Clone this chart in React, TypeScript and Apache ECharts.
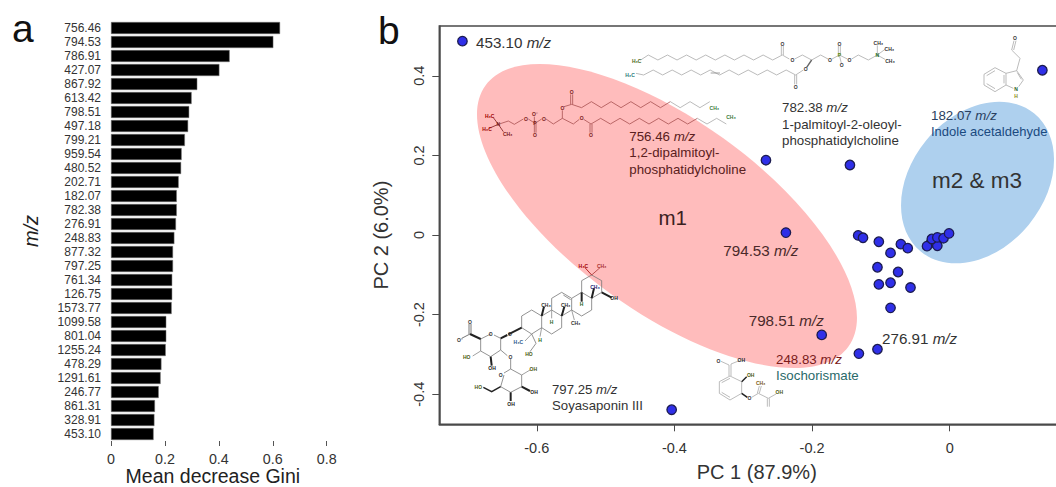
import React, { useEffect, useRef } from "react";
import * as echarts from "echarts";

const FONT = "Liberation Sans";

// Panel a
const mzLabels = ["756.46","794.53","786.91","427.07","867.92","613.42","798.51","497.18","799.21","959.54","480.52","202.71","182.07","782.38","276.91","248.83","877.32","797.25","761.34","126.75","1573.77","1099.58","801.04","1255.24","478.29","1291.61","246.77","861.31","328.91","453.10"];
const giniValues = [0.627,0.602,0.44,0.402,0.32,0.299,0.29,0.286,0.274,0.262,0.26,0.251,0.244,0.244,0.241,0.235,0.23,0.23,0.227,0.227,0.225,0.205,0.205,0.203,0.187,0.184,0.177,0.163,0.161,0.158];

// Panel b
const pcaPoints: number[][] = [
  [-0.708,0.487],[0.1346,0.414],[-0.267,0.188],[-0.145,0.176],[-0.238,0.006],
  [-0.133,-0.001],[-0.126,-0.007],[-0.103,-0.017],[-0.071,-0.023],[-0.061,-0.033],
  [-0.086,-0.045],[-0.105,-0.081],[-0.075,-0.093],[-0.103,-0.124],[-0.086,-0.12],
  [-0.057,-0.132],[-0.086,-0.183],[-0.186,-0.251],[-0.105,-0.287],[-0.132,-0.298],[-0.404,-0.439],
  [-0.027,-0.019],[-0.033,-0.028],[-0.018,-0.027],[-0.026,-0.01],[-0.018,-0.006],[-0.009,-0.008],[-0.001,0.004],
];
const pc1Ticks = [-0.6,-0.4,-0.2,0];
const pc2Ticks = [-0.4,-0.2,0,0.2,0.4];
const ellipses: (number|string)[][] = [
  [-0.4108,0.0477,223.5,96,35.7,"#ffbcbc"],
  [0.0404,0.1319,89.3,66.4,-50.5,"#aed0ee"],
];

type Pt = [number, number];
const GREY = "#a9a9a9";
const RED = "#a85050";
const els: any[] = [];
const line = (o: Pt, pts: Pt[], color = GREY, w = 0.8) =>
  els.push({ type: "polyline", z: 3, silent: true, shape: { points: pts.map(p => [o[0]+p[0]/3, o[1]+p[1]/3]) }, style: { stroke: color, lineWidth: w, fill: "none" } });
const atom = (o: Pt, s: string, x: number, y: number, color = "#333") =>
  els.push({ type: "text", z: 3, silent: true, x: o[0]+x/3, y: o[1]+y/3, style: { text: s, fontFamily: FONT, fontSize: 5, fontWeight: "bold", fill: color, align: "center", verticalAlign: "middle" } });
const zig = (x0: number, yA: number, yB: number, n: number, dx: number): Pt[] => {
  const r: Pt[] = [];
  for (let i = 0; i <= n; i++) r.push([x0 + i*dx, i % 2 === 0 ? yA : yB]);
  return r;
};
const label = (x: number, y: number, text: string, fontSize: number, fill: string, align = "left") =>
  els.push({ type: "text", z: 3, silent: true, x, y, style: { text, fontFamily: FONT, fontSize, fill, align, verticalAlign: "middle", rich: { i: { fontStyle: "italic", fontFamily: FONT, fontSize, fill } } } });

// 756.46 structure
{
  const o: Pt = [475,85];
  line(o, [[70,118],[100,108],[118,118],[145,102]], RED);
  line(o, [[160,102],[180,115],[200,102]], RED);
  line(o, [[178,95],[178,115]], RED); line(o, [[178,115],[178,143]], RED); line(o, [[183,115],[183,143]], RED);
  line(o, [[213,102],[235,117],[262,100],[262,76]], RED, 0.8);
  line(o, [[267,65],[290,58]], RED);
  line(o, [[287,58],[287,28]], RED); line(o, [[293,58],[293,28]], RED);
  const c1 = zig(290,58,68,14,29.6).map((p,i) => [p[0], i%2===0 ? (i===0?58:50) : 68] as Pt);
  line(o, c1.slice(0,11), RED); line(o, c1.slice(10), GREY);
  line(o, [[262,100],[295,117],[313,103]], RED);
  line(o, [[326,103],[348,117]], RED);
  line(o, [[345,117],[345,143]], RED); line(o, [[351,117],[351,143]], RED);
  const c2 = zig(348,117,100,14,29);
  line(o, c2.slice(0,12), RED); line(o, c2.slice(11), GREY);
  line(o, [[70,118],[55,98]], "#7a1a1a"); line(o, [[70,118],[42,130]], "#7a1a1a"); line(o, [[70,118],[85,140]], "#7a1a1a");
  atom(o,"H\u2083C",44,93,"#a00000"); atom(o,"H\u2083C",36,132,"#a00000"); atom(o,"CH\u2083",98,147,"#7a1a1a"); atom(o,"N",70,118,"#7a1a1a");
  atom(o,"O",153,101,"#7a1a1a"); atom(o,"P",180,115,"#7a1a1a"); atom(o,"O\u207b",180,87,"#7a1a1a"); atom(o,"O",180,149,"#7a1a1a"); atom(o,"O",207,101,"#7a1a1a");
  atom(o,"O",262,70,"#7a1a1a"); atom(o,"O",290,21,"#7a1a1a"); atom(o,"O",320,100,"#7a1a1a"); atom(o,"O",348,150,"#7a1a1a");
  atom(o,"CH\u2083",718,68,"#3a7a3a"); atom(o,"CH\u2083",768,97,"#3a7a3a");
}
// 782.38 structure
{
  const o: Pt = [620,30];
  line(o, [[62,90],...zig(85,75,90,14,28.7)]);
  line(o, [[487,75],[508,87]]); line(o, [[484,75],[484,48]]); line(o, [[490,75],[490,48]]);
  line(o, [[524,87],[547,75],[575,90],[602,75],[624,87]]);
  line(o, [[636,87],[658,75],[682,87]]); line(o, [[655,75],[655,48]]); line(o, [[661,75],[661,48]]); line(o, [[658,75],[664,100]]);
  line(o, [[695,87],[715,75],[745,90],[772,75],[772,46]]); line(o, [[772,75],[795,58]]); line(o, [[772,75],[795,88]]);
  line(o, [[575,90],[560,112]], "#666", 1.4);
  line(o, [[550,120],[527,135]]); line(o, [[524,135],[524,163]]); line(o, [[530,135],[530,163]]);
  const c = zig(527,135,120,16,-28.5);
  line(o, [...c, [48,130]]); line(o, [[272,129],[300,129]], "#888", 0.8);
  atom(o,"H\u2083C",50,92,"#4a6a20"); atom(o,"H\u2083C",30,135,"#2a7a7a");
  atom(o,"O",487,42); atom(o,"O",517,90); atom(o,"O",630,90); atom(o,"P",658,75,"#5a8a10"); atom(o,"O",658,42); atom(o,"O",665,105); atom(o,"O",688,90);
  atom(o,"N",772,75,"#1a6a1a"); atom(o,"CH\u2083",775,40); atom(o,"CH\u2083",808,58); atom(o,"CH\u2083",810,92); atom(o,"O",557,118); atom(o,"O",527,170);
}
// 797.25 structure
{
  const o: Pt = [450,255];
  const ring: Pt[][] = [
    [[215,183],[245,165],[275,183],[275,218],[245,237],[215,218],[215,183]],
    [[275,183],[305,165],[335,183],[335,218],[305,237],[275,218]],
    [[305,165],[305,130],[335,112],[365,130],[365,165],[335,183]],
    [[365,165],[395,183],[425,165],[425,130],[395,112],[365,130]],
    [[395,112],[395,77],[425,60],[455,77],[455,112],[425,130]],
    [[122,237],[92,252],[92,288],[122,305],[152,285],[152,250],[132,240]],
    [[162,360],[152,395],[182,412],[215,395],[215,360],[182,342],[162,354]],
  ];
  ring.forEach(r => line(o, r, "#777", 0.8));
  line(o, [[340,120],[362,134]], "#777");
  line(o, [[425,60],[405,38]], "#a00000"); line(o, [[425,60],[450,38]], "#a33");
  line(o, [[455,112],[485,128]], "#222", 2);
  line(o, [[215,218],[175,238]], "#222", 2);
  line(o, [[152,250],[172,240]], "#222", 2);
  line(o, [[92,252],[60,237]], "#222", 2); line(o, [[57,237],[57,207]], "#555"); line(o, [[63,237],[63,207]], "#555"); line(o, [[60,237],[35,250]], "#555");
  line(o, [[275,183],[282,155]], "#222", 2); line(o, [[335,183],[343,155]], "#222", 2); line(o, [[395,112],[395,140]], "#222", 2); line(o, [[425,130],[432,100]], "#222", 2);
  line(o, [[305,165],[305,190]], "#888"); line(o, [[365,165],[373,195]], "#888"); line(o, [[275,218],[270,245]], "#888");
  line(o, [[245,237],[225,258]], "#888"); line(o, [[245,237],[258,265],[240,290]], "#777");
  line(o, [[92,288],[68,303]], "#888"); line(o, [[122,305],[125,332]], "#222", 2); line(o, [[152,285],[172,302]], "#777"); line(o, [[182,312],[182,342]], "#777");
  line(o, [[215,360],[240,345]], "#888"); line(o, [[215,395],[240,408]], "#222", 2); line(o, [[182,412],[182,438]], "#222", 2); line(o, [[152,395],[125,410],[100,397]], "#222", 1.4);
  atom(o,"H\u2083C",400,33,"#a00000"); atom(o,"CH\u2083",455,33,"#a33"); atom(o,"CH\u2083",435,95,"#227"); atom(o,"OH",492,130,"#222");
  atom(o,"CH\u2083",288,149); atom(o,"CH\u2083",347,150); atom(o,"CH\u2083",377,203); atom(o,"H",305,200,"#2a6a2a"); atom(o,"H",395,147,"#2a6a2a"); atom(o,"H",270,255,"#2a6a2a");
  atom(o,"O",180,237); atom(o,"H\u2083C",205,262,"#2a5a8a"); atom(o,"HO",237,296,"#4a5a10"); atom(o,"O",60,200); atom(o,"O\u207b",30,255);
  atom(o,"O",122,237); atom(o,"HO",50,306,"#4a5a10"); atom(o,"OH",126,340,"#222"); atom(o,"O",181,306); atom(o,"O",152,360);
  atom(o,"OH",250,342,"#4a5a10"); atom(o,"OH",252,411,"#222"); atom(o,"OH",183,447,"#222"); atom(o,"HO",85,395,"#4a5a10");
}
// 248.83 structure
{
  const o: Pt = [700,340];
  line(o, [[90,108],[125,125],[125,160],[90,180],[58,160],[58,125],[90,108]]);
  line(o, [[65,128],[90,115]]); line(o, [[65,157],[90,172]]);
  line(o, [[87,108],[87,75],[63,64]]); line(o, [[93,108],[93,72],[118,62]]); line(o, [[125,125],[140,110]], "#222", 1.4);
  line(o, [[125,160],[142,172]], "#222", 1.6); line(o, [[155,172],[175,160],[205,175],[228,162]]); line(o, [[172,160],[178,138]]); line(o, [[178,160],[184,138]]);
  line(o, [[202,175],[202,200]]); line(o, [[208,175],[208,200]]);
  atom(o,"O",55,62); atom(o,"OH",124,60,"#222"); atom(o,"OH",152,106,"#4a5a10"); atom(o,"O",148,175); atom(o,"CH\u2083",182,130,"#7a5a20"); atom(o,"OH",238,157,"#4a5a10");
}
// 182.07 structure
{
  const o: Pt = [970,30];
  line(o, [[42,133],[75,113],[108,130],[108,165],[75,185],[42,165],[42,133]]);
  line(o, [[50,137],[75,122]]); line(o, [[50,161],[75,176]]); line(o, [[102,135],[102,160]]);
  line(o, [[108,130],[140,122],[160,150],[146,170]]); line(o, [[108,165],[130,175]]); line(o, [[142,128],[154,148]]);
  line(o, [[140,122],[150,85],[125,60],[132,32]]); line(o, [[131,60],[138,32]]);
  atom(o,"O",135,25); atom(o,"N",138,178,"#1a5a1a"); atom(o,"H",138,198,"#8a8a20");
}

label(476,42,"453.10 {i|m/z}",15.2,"#333");
label(629.3,136,"756.46 {i|m/z}",13.3,"#5a2020");
label(629.3,152,"1,2-dipalmitoyl-",13.3,"#5a2020");
label(629.3,169.5,"phosphatidylcholine",13.3,"#5a2020");
label(782,107.5,"782.38 {i|m/z}",13.3,"#333");
label(782,124,"1-palmitoyl-2-oleoyl-",13.3,"#333");
label(782,140,"phosphatidylcholine",13.3,"#333");
label(931,115,"182.07 {i|m/z}",13.3,"#2a4060");
label(931,131,"Indole acetaldehyde",13,"#1a4a80");
label(977,180,"m2 & m3",22.5,"#333","center");
label(672.7,217,"m1",20.5,"#3a2020","center");
label(723.3,250.7,"794.53 {i|m/z}",15.2,"#4a2a2a");
label(748.7,320.7,"798.51 {i|m/z}",15.2,"#4a2a2a");
label(776,359,"248.83 {i|m/z}",13.3,"#7a1a1a");
label(776,375,"Isochorismate",13.3,"#2a6a6a");
label(882,338,"276.91 {i|m/z}",15.2,"#333");
label(552,389.5,"797.25 {i|m/z}",13.2,"#333");
label(552,405.5,"Soyasaponin III",13.2,"#333");
els.push({ type: "text", z: 3, silent: true, x: 12, y: 28, style: { text: "a", fontFamily: FONT, fontSize: 39, fill: "#111", align: "left", verticalAlign: "middle" } });
els.push({ type: "text", z: 3, silent: true, x: 378, y: 30, style: { text: "b", fontFamily: FONT, fontSize: 39, fill: "#111", align: "left", verticalAlign: "middle" } });

export default function App() {
  const ref = useRef<HTMLDivElement>(null);
  useEffect(() => {
    const chart = echarts.init(ref.current!, undefined, { renderer: "svg" });
    const axisColor = "#4a4a4a";
    chart.setOption({
      animation: false,
      backgroundColor: "#fff",
      textStyle: { fontFamily: FONT },
      grid: [
        { left: 111, width: 215.7, top: 21, height: 420, outerBoundsMode: "none" },
        { left: 439.3, width: 620, top: 26, height: 398.3, outerBoundsMode: "none", show: true, borderColor: axisColor, borderWidth: 1.5, backgroundColor: "transparent" },
      ],
      xAxis: [
        { type: "value", gridIndex: 0, min: 0, max: 0.8, interval: 0.2, splitLine: { show: false },
          name: "Mean decrease Gini", nameLocation: "middle", nameGap: 25, nameMoveOverlap: false, nameTextStyle: { fontSize: 19.5, color: "#222", padding: [0, 12, 0, 0] },
          axisLine: { onZero: false, lineStyle: { color: "#666", width: 1.5 } }, axisTick: { show: true, length: 5, lineStyle: { color: "#555" } },
          axisLabel: { fontSize: 14.3, color: "#333", margin: 11, hideOverlap: false, formatter: (v: number) => String(v) } },
        { type: "value", gridIndex: 1, min: -0.7416, max: 0.1592, splitLine: { show: false },
          name: "PC 1 (87.9%)", nameLocation: "middle", nameGap: 38, nameTextStyle: { fontSize: 20, color: "#333", padding: [0, 0, 0, 15] },
          axisLine: { onZero: false, lineStyle: { color: axisColor, width: 1.5 } },
          axisTick: { show: true, length: 7, lineStyle: { color: axisColor }, customValues: pc1Ticks },
          axisLabel: { fontSize: 14.5, color: "#333", margin: 16, customValues: pc1Ticks, formatter: (v: number) => String(v) } },
      ],
      yAxis: [
        { type: "category", gridIndex: 0, data: mzLabels, inverse: true,
          name: "m/z", nameLocation: "middle", nameGap: 70, nameTextStyle: { fontSize: 20, fontStyle: "italic", color: "#222" },
          axisLine: { show: false }, axisTick: { show: false },
          axisLabel: { fontSize: 12, color: "#333", margin: 10, interval: 0 } },
        { type: "value", gridIndex: 1, min: -0.4756, max: 0.5251, splitLine: { show: false },
          name: "PC 2 (6.0%)", nameLocation: "middle", nameGap: 48, nameTextStyle: { fontSize: 20, color: "#333", padding: [0, 20, 0, 0] },
          axisLine: { onZero: false, lineStyle: { color: axisColor, width: 1.5 } },
          axisTick: { show: true, length: 7, lineStyle: { color: axisColor }, customValues: pc2Ticks },
          axisLabel: { fontSize: 14.5, color: "#333", rotate: 90, margin: 13, customValues: pc2Ticks, formatter: (v: number) => String(v) } },
      ],
      graphic: { elements: els },
      series: [
        { type: "bar", xAxisIndex: 0, yAxisIndex: 0, data: giniValues, barWidth: 12, itemStyle: { color: "#000", borderColor: "#777", borderWidth: 0.5 }, silent: true },
        { type: "custom", xAxisIndex: 1, yAxisIndex: 1, z: 1, silent: true, clip: false,
          data: ellipses,
          encode: { x: 0, y: 1 },
          renderItem: (_p: any, api: any) => {
            const c = api.coord([api.value(0), api.value(1)]);
            return { type: "ellipse", x: c[0], y: c[1], rotation: -api.value(4) * Math.PI / 180,
              shape: { cx: 0, cy: 0, rx: api.value(2), ry: api.value(3) },
              style: { fill: api.value(5) } };
          } },
        { type: "scatter", xAxisIndex: 1, yAxisIndex: 1, z: 4, data: pcaPoints, symbolSize: 9.5, silent: true,
          itemStyle: { color: "#2f2fe8", borderColor: "#1c1c50", borderWidth: 1.3, opacity: 1 } },
      ],
    });
    return () => chart.dispose();
  }, []);
  return <div ref={ref} style={{ position: "absolute", left: 0, top: 0, width: 1056, height: 487, overflow: "hidden" }} />;
}
